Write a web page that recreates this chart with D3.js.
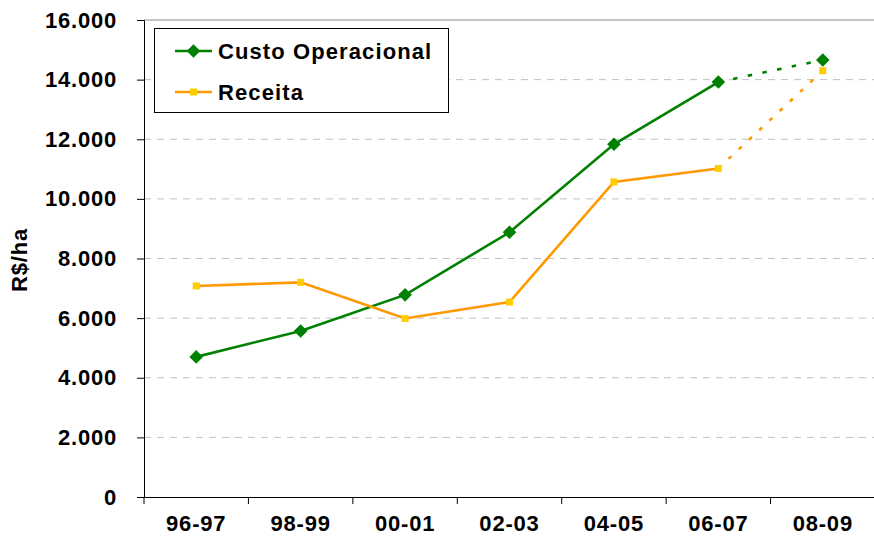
<!DOCTYPE html>
<html>
<head>
<meta charset="utf-8">
<script src="https://cdn.jsdelivr.net/npm/d3@7"></script>
<style>
  body { margin: 0; background: #fff; }
  svg text { font-family: "Liberation Sans", Arial, sans-serif; font-weight: bold; fill: #000; }
</style>
</head>
<body>
<svg id="chart" width="874" height="544"></svg>
<script>
// values
const seasons = ['96-97', '98-99', '00-01', '02-03', '04-05', '06-07', '08-09']
const custo = [4700, 5570, 6780, 8880, 11830, 13920, 14660]
const receita = [7080, 7200, 5990, 6540, 10570, 11020, 14300]
const yTicks = [0, 2000, 4000, 6000, 8000, 10000, 12000, 14000, 16000]
const seriesNames = ['Custo Operacional', 'Receita']

const svg = d3.select('#chart')
const plotL = 144, plotR = 875, plotT = 20, plotB = 497

const x = d3.scaleBand().domain(seasons).range([plotL, plotR])
const y = d3.scaleLinear().domain([0, 16000]).range([plotB, plotT])
const cx = (d) => x(d) + x.bandwidth() / 2
const fmt = (d) => d3.format(',')(d).replace(/,/g, '.')

// grid
svg.append('g')
  .selectAll('line')
  .data(yTicks.filter(d => d > 0 && d < 16000))
  .join('line')
  .attr('x1', plotL).attr('x2', 874)
  .attr('y1', d => y(d)).attr('y2', d => y(d))
  .attr('stroke', '#c0c0c0')
  .attr('stroke-dasharray', '7,6')
// top border of plot
svg.append('line')
  .attr('x1', plotL).attr('x2', 874)
  .attr('y1', y(16000)).attr('y2', y(16000))
  .attr('stroke', '#8c8c8c')

// y axis
const yAxis = svg.append('g')
  .attr('transform', 'translate(' + plotL + ',0)')
  .call(d3.axisLeft(y).tickValues(yTicks).tickFormat(fmt).tickSize(7).tickPadding(20))
yAxis.select('.domain').attr('stroke', '#000')
yAxis.selectAll('.tick line').attr('stroke', '#000')
yAxis.selectAll('text').style('font-size', '22px').style('letter-spacing', '0.8px').attr('fill', '#000')

// x axis
const xAxis = svg.append('g')
  .attr('transform', 'translate(0,' + plotB + ')')
  .call(d3.axisBottom(x).tickSize(0).tickPadding(18))
xAxis.select('.domain').attr('stroke', '#000').attr('d', 'M' + plotL + ',0.5H874')
xAxis.selectAll('text').style('font-size', '22px').style('letter-spacing', '0.8px').attr('fill', '#000')
xAxis.selectAll('.bound')
  .data(seasons)
  .join('line')
  .attr('class', 'bound')
  .attr('x1', d => x(d)).attr('x2', d => x(d))
  .attr('y1', 0).attr('y2', 7)
  .attr('stroke', '#000')

// y label
svg.append('text')
  .attr('transform', 'translate(27,260) rotate(-90)')
  .attr('text-anchor', 'middle')
  .style('font-size', '22px')
  .style('letter-spacing', '0.8px')
  .text('R$/ha')

const line = d3.line().x(d => cx(d.s)).y(d => y(d.v))

function drawSeries(values, color, dash, w) {
  const pts = values.map((v, i) => ({ s: seasons[i], v: v }))
  svg.append('path').datum(pts.slice(0, 6))
    .attr('fill', 'none').attr('stroke', color).attr('stroke-width', w).attr('d', line)
  svg.append('path').datum(pts.slice(5))
    .attr('fill', 'none').attr('stroke', color).attr('stroke-width', w)
    .attr('stroke-dasharray', dash).attr('d', line)
  return pts
}

const cPts = drawSeries(custo, '#008000', '4.5,10.5', 2.6)
const rPts = drawSeries(receita, '#ff9900', '4,10', 2.6)

svg.append('g').selectAll('path')
  .data(cPts)
  .join('path')
  .attr('transform', d => 'translate(' + cx(d.s) + ',' + y(d.v) + ')')
  .attr('d', 'M0,-6.8L6.8,0L0,6.8L-6.8,0Z')
  .attr('fill', '#008000')

svg.append('g').selectAll('rect')
  .data(rPts)
  .join('rect')
  .attr('x', d => cx(d.s) - 3.5).attr('y', d => y(d.v) - 3.5)
  .attr('width', 7).attr('height', 7)
  .attr('fill', '#ffcc00')

// legend
const lg = svg.append('g')
lg.append('rect')
  .attr('x', 154.5).attr('y', 28.5).attr('width', 294).attr('height', 84)
  .attr('fill', '#fff').attr('stroke', '#000')
const legendColors = ['#008000', '#ff9900']
seriesNames.forEach((name, i) => {
  const ly = 51 + i * 41
  lg.append('line').attr('x1', 175).attr('x2', 212).attr('y1', ly).attr('y2', ly)
    .attr('stroke', legendColors[i]).attr('stroke-width', 2.6)
  if (i === 0) {
    lg.append('path').attr('transform', 'translate(193.5,' + ly + ')')
      .attr('d', 'M0,-6.8L6.8,0L0,6.8L-6.8,0Z').attr('fill', '#008000')
  } else {
    lg.append('rect').attr('x', 190).attr('y', ly - 3.5).attr('width', 7).attr('height', 7)
      .attr('fill', '#ffcc00')
  }
  lg.append('text').attr('x', 218).attr('y', ly + 8)
    .style('font-size', '22px').style('letter-spacing', '1.1px')
    .text(name)
})
</script>
</body>
</html>
